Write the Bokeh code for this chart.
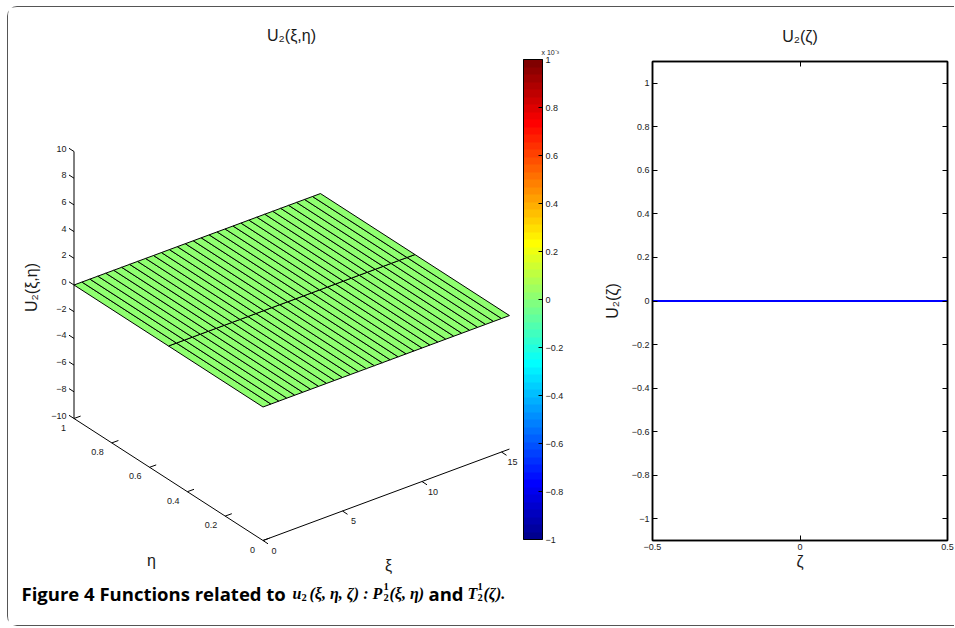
import math
import numpy as np
from bokeh.plotting import figure
from bokeh.models import (Range1d, ColumnDataSource, LinearColorMapper, ColorBar,
                          FixedTicker, LinearAxis)
from bokeh.layouts import row
from bokeh.embed import file_html
from bokeh.resources import INLINE
from bokeh.core.properties import value

# ---------------- data ----------------
XI = [0.0, 0.5, 1.0, 1.5, 2.0, 2.5, 3.0, 3.5, 4.0, 4.5, 5.0, 5.5, 6.0, 6.5, 7.0, 7.5,
      8.0, 8.5, 9.0, 9.5, 10.0, 10.5, 11.0, 11.5, 12.0, 12.5, 13.0, 13.5, 14.0, 14.5,
      15.0, 15.5]
ETA = [0.0, 0.5, 1.0]
U2_SURF = [[0.0 for _ in XI] for _ in ETA]      # U2(xi, eta) is zero everywhere
ZETA = [-0.5, 0.0, 0.5]
U2_LINE = [0.0, 0.0, 0.0]

Z_TICKS = [-10, -8, -6, -4, -2, 0, 2, 4, 6, 8, 10]
ETA_TICKS = [0, 0.2, 0.4, 0.6, 0.8, 1]
XI_TICKS = [0, 5, 10, 15]
CB_TICKS = [-1, -0.8, -0.6, -0.4, -0.2, 0, 0.2, 0.4, 0.6, 0.8, 1]   # x 1e-3
ZETA_TICKS = [-0.5, 0, 0.5]
U_TICKS = [-1, -0.8, -0.6, -0.4, -0.2, 0, 0.2, 0.4, 0.6, 0.8, 1]

Z_LIM = (-10, 10)
C_LIM = (-1e-3, 1e-3)

FONT = "Liberation Sans"
TXT = "#1a1a1a"


def fmt(v):
    s = "%g" % v
    return s.replace("-", "\u2212")


def jet(m=64):
    n = math.ceil(m / 4)
    u = np.concatenate([np.arange(1, n + 1) / n, np.ones(n - 1), np.arange(n, 0, -1) / n])
    g = math.ceil(n / 2) - (1 if m % 4 == 1 else 0) + np.arange(1, len(u) + 1)
    r = g + n
    b = g - n
    J = np.zeros((m, 3))
    for col, idx in ((0, r), (1, g), (2, b)):
        for k, val in zip(idx, u):
            if 1 <= k <= m:
                J[k - 1, col] = val
    return ["#%02x%02x%02x" % tuple(int(round(c * 255)) for c in rowc) for rowc in J]


JET = jet(64)

# page geometry (page pixels)
OX, OY = 8, 7            # content origin (inside the rounded frame)
H = 618                  # figure height
SPLIT = 600              # left / right figure boundary
RIGHT_W = 354
FR_TOP, FR_BOT, FR_RIGHT = 61, 540, 947   # box of the right-hand plot


def txt(fig, xs, ys, texts, size, align="center", baseline="middle", font=FONT,
        style="normal", color=TXT, angle=0.0):
    fig.text(x=list(xs), y=list(ys), text=list(texts), text_font=value(font),
             text_font_size=size, text_font_style=style, text_align=align,
             text_baseline=baseline, text_color=color, angle=angle)


# ---------------- left: 3-D surface ----------------
left = figure(width=SPLIT - OX, height=H, x_range=Range1d(OX, SPLIT),
              y_range=Range1d(OY + H, OY),
              output_backend="svg", toolbar_location=None, x_axis_location=None,
              y_axis_location=None, min_border=0)
left.grid.visible = False
left.outline_line_color = None

# oblique projection of (xi, eta, z) onto the page
CORNER = (262.5, 540.0)          # (xi=0, eta=0, z=zmin)
E_XI = (15.9, -5.9)
E_ETA = (-189.0, -122.0)
E_Z = 13.35


def proj(xi, eta, z):
    x = CORNER[0] + E_XI[0] * xi + E_ETA[0] * eta
    y = CORNER[1] + E_XI[1] * xi + E_ETA[1] * eta - E_Z * (z - Z_LIM[0])
    return x, y


mapper = LinearColorMapper(palette=JET, low=C_LIM[0], high=C_LIM[1])

xs, ys, cs = [], [], []
for i in range(len(ETA) - 1):
    for j in range(len(XI) - 1):
        pts = [(XI[j], ETA[i], U2_SURF[i][j]), (XI[j + 1], ETA[i], U2_SURF[i][j + 1]),
               (XI[j + 1], ETA[i + 1], U2_SURF[i + 1][j + 1]), (XI[j], ETA[i + 1], U2_SURF[i + 1][j])]
        pp = [proj(*p) for p in pts]
        xs.append([p[0] for p in pp])
        ys.append([p[1] for p in pp])
        cs.append(U2_SURF[i][j])
left.patches(xs="xs", ys="ys", source=ColumnDataSource(dict(xs=xs, ys=ys, c=cs)),
             fill_color={"field": "c", "transform": mapper}, line_color="black", line_width=1)

# axes lines
ax_x0, ax_y0 = proj(0, 0, Z_LIM[0])
ax_xe, ax_ye = proj(XI[-1], 0, Z_LIM[0])
ax_he, ax_hy = proj(0, ETA[-1], Z_LIM[0])
zt_x, zt_y = proj(0, ETA[-1], Z_LIM[1])
left.segment(x0=[ax_x0, ax_x0, ax_he], y0=[ax_y0, ax_y0, ax_hy],
             x1=[ax_xe, ax_he, zt_x], y1=[ax_ye, ax_hy, zt_y], line_color="black", line_width=1)

# z ticks (pointing along +eta, outward)
zx, zy = [], []
for z in Z_TICKS:
    x, y = proj(0, ETA[-1], z)
    zx.append(x); zy.append(y)
left.segment(x0=zx, y0=zy, x1=[x - 5.0 for x in zx], y1=[y - 3.2 for y in zy],
             line_color="black", line_width=1)
txt(left, [x - 7.5 for x in zx], [y - 3 for y in zy], [fmt(z) for z in Z_TICKS], "9px",
    align="right")

# eta ticks (pointing along +xi)
ex, ey = [], []
for e in ETA_TICKS:
    x, y = proj(0, e, Z_LIM[0])
    ex.append(x); ey.append(y)
left.segment(x0=ex, y0=ey, x1=[x + 6.6 for x in ex], y1=[y - 2.4 for y in ey],
             line_color="black", line_width=1)
txt(left, [x - 8 for x in ex], [y + 9 for y in ey], [fmt(e) for e in ETA_TICKS], "9px",
    align="right")

# xi ticks (pointing along -eta)
xx, xy = [], []
for t in XI_TICKS:
    x, y = proj(t, 0, Z_LIM[0])
    xx.append(x); xy.append(y)
left.segment(x0=xx, y0=xy, x1=[x + 5 for x in xx], y1=[y + 3.3 for y in xy],
             line_color="black", line_width=1)
txt(left, [x + 11 for x in xx], [y + 10 for y in xy], [fmt(t) for t in XI_TICKS], "9px")

# titles / axis labels
txt(left, [291], [35], ["U\u2082(\u03be,\u03b7)"], "16px")
txt(left, [31], [287], ["U\u2082(\u03be,\u03b7)"], "16px", angle=math.pi / 2)
txt(left, [151, 388], [560, 565], ["\u03b7", "\u03be"], "16px")

# colour bar
CB_LEFT, CB_TOP, CB_BOTTOM, CB_W = 523, 59, 539, 19
cbar = ColorBar(color_mapper=LinearColorMapper(palette=JET, low=CB_TICKS[0], high=CB_TICKS[-1]),
                ticker=FixedTicker(ticks=CB_TICKS),
                major_label_overrides={t: fmt(t) for t in CB_TICKS},
                location=(CB_LEFT - OX, OY + H - CB_BOTTOM), width=CB_W,
                height=CB_BOTTOM - CB_TOP,
                padding=0, margin=0, bar_line_color="black", major_tick_line_color="black",
                major_tick_in=4, major_tick_out=0, minor_tick_line_color=None,
                label_standoff=3, major_label_text_font_size="9px",
                major_label_text_font=FONT, major_label_text_color=TXT,
                background_fill_alpha=0, border_line_color=None)
left.add_layout(cbar, "center")
cb_y = [CB_BOTTOM - (t - CB_TICKS[0]) / (CB_TICKS[-1] - CB_TICKS[0]) * (CB_BOTTOM - CB_TOP)
        for t in CB_TICKS]
left.segment(x0=[CB_LEFT] * len(cb_y), y0=cb_y, x1=[CB_LEFT + 4] * len(cb_y), y1=cb_y,
             line_color="black", line_width=1)
txt(left, [541], [52], ["x 10\u207b\u00b3"], "7px", align="left")

# caption
CAP_Y = 593
txt(left, [21, 428], [CAP_Y, CAP_Y], ["Figure 4 Functions related to", "and"], "18.5px",
    align="left", baseline="alphabetic", font="Open Sans", style="bold", color="black")
txt(left, [292, 309, 372, 389, 467, 483], [CAP_Y] * 6,
    ["u", "(\u03be, \u03b7, \u03b6) :", "P", "(\u03be, \u03b7)", "T", "(\u03b6)."], "16px",
    align="left", baseline="alphabetic", font="Liberation Serif", style="bold italic",
    color="black")
txt(left, [301, 383, 383, 477, 477], [CAP_Y + 4, CAP_Y + 4, CAP_Y - 7, CAP_Y + 4, CAP_Y - 7],
    ["2", "2", "1", "2", "1"], "10.5px", align="left", baseline="alphabetic",
    font="Liberation Serif", style="bold", color="black")

# ---------------- right: U2(zeta) ----------------
right = figure(width=RIGHT_W, height=H, x_range=Range1d(-0.5, 0.5), y_range=Range1d(-1.1, 1.1),
               output_backend="svg", toolbar_location=None, min_border_left=51,
               min_border_right=SPLIT + RIGHT_W - FR_RIGHT, min_border_top=FR_TOP - OY,
               min_border_bottom=OY + H - FR_BOT, title="U\u2082(\u03b6)")
right.title.align = "center"
right.title.text_font = FONT
right.title.text_font_size = "16px"
right.title.text_font_style = "normal"
right.title.text_color = TXT
right.title.standoff = 34
right.grid.visible = False
right.outline_line_color = "black"
right.outline_line_width = 1.5

right.line(ZETA, U2_LINE, line_color="#0000ff", line_width=2)

for ax, ticks in ((right.xaxis[0], ZETA_TICKS), (right.yaxis[0], U_TICKS)):
    ax.ticker = FixedTicker(ticks=ticks)
    ax.major_label_overrides = {t: fmt(t) for t in ticks}
    ax.major_tick_in = 5
    ax.major_tick_out = 0
    ax.minor_tick_line_color = None
    ax.major_label_text_font = FONT
    ax.major_label_text_font_size = "9px"
    ax.major_label_text_color = TXT
    ax.axis_label_text_font = FONT
    ax.axis_label_text_font_size = "16px"
    ax.axis_label_text_font_style = "normal"
    ax.axis_label_text_color = TXT
    ax.axis_line_width = 1.5
    ax.major_label_standoff = 3
right.xaxis.axis_label = "\u03b6"
right.xaxis.axis_label_standoff = 0
right.yaxis.axis_label = "U\u2082(\u03b6)"
right.yaxis.axis_label_standoff = 8

for place, ticks in (("right", U_TICKS), ("above", ZETA_TICKS)):
    a = LinearAxis(ticker=FixedTicker(ticks=ticks), major_label_text_font_size="0px",
                   major_label_standoff=0, major_tick_in=5, major_tick_out=0,
                   minor_tick_line_color=None, axis_line_width=1.5)
    right.add_layout(a, place)

# the two plots must keep their own frames (no frame alignment inside the row)
for f in (left, right):
    if "frame_align" in f.properties():
        f.frame_align = False

layout = row(left, right, styles={
    "margin-left": "%dpx" % (OX - 1), "margin-top": "%dpx" % (OY - 1),
    "border-top": "1px solid #555", "border-left": "1px solid #555",
    "border-bottom": "1px solid #555",
    "border-top-left-radius": "10px", "border-bottom-left-radius": "10px"})

open("out.html", "w").write(file_html(layout, INLINE))
